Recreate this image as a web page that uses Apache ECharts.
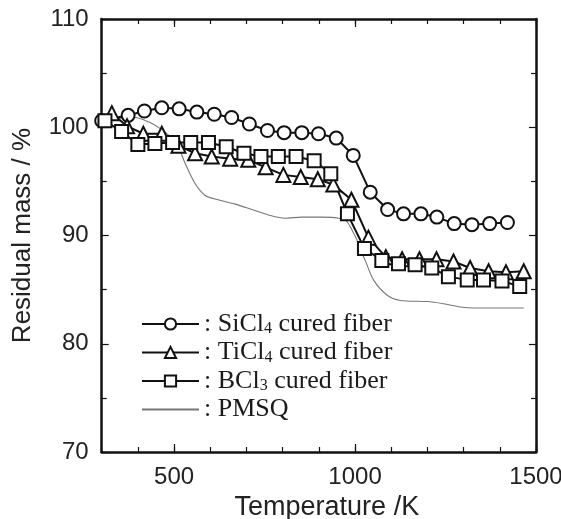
<!DOCTYPE html>
<html>
<head>
<meta charset="utf-8">
<script src="https://cdn.jsdelivr.net/npm/echarts@6/dist/echarts.min.js"></script>
<style>
html,body{margin:0;padding:0;background:#fff;}
#chart{width:561px;height:519px;}
</style>
</head>
<body>
<div id="chart"></div>
<script>
// ---- data ----
var siTemp = [300, 373, 418, 466, 514, 563, 611, 659, 708, 758, 804, 853, 899, 948, 995, 1042, 1090, 1134, 1182, 1226, 1274, 1323, 1372, 1421];
var siMass = [100.6, 101.1, 101.5, 101.8, 101.7, 101.4, 101.2, 100.9, 100.3, 99.7, 99.5, 99.5, 99.4, 99.0, 97.4, 94.0, 92.4, 92.0, 92.0, 91.7, 91.1, 91.0, 91.1, 91.2];

var tiTemp = [328, 370, 415, 466, 512, 558, 604, 655, 705, 753, 802, 850, 897, 940, 990, 1037, 1085, 1130, 1178, 1225, 1272, 1318, 1369, 1417, 1466];
var tiMass = [101.3, 100.1, 99.4, 99.4, 98.3, 97.6, 97.3, 97.1, 97.0, 96.3, 95.6, 95.4, 95.2, 94.7, 93.3, 89.8, 88.0, 87.8, 87.8, 87.8, 87.6, 87.0, 86.7, 86.6, 86.7];

var bTemp = [309, 355, 400, 447, 496, 546, 595, 644, 693, 740, 788, 837, 887, 933, 979, 1026, 1074, 1120, 1166, 1212, 1258, 1310, 1355, 1406, 1455];
var bMass = [100.6, 99.6, 98.4, 98.5, 98.6, 98.6, 98.6, 98.2, 97.6, 97.3, 97.3, 97.3, 96.9, 95.7, 92.0, 88.8, 87.7, 87.4, 87.3, 87.0, 86.2, 85.9, 85.9, 85.8, 85.3];

var pTemp = [340, 392, 429, 461, 494, 512, 530, 558, 586, 622, 669, 715, 761, 807, 853, 908, 954, 977, 996, 1005, 1014, 1028, 1051, 1088, 1125, 1199, 1244, 1291, 1327, 1401, 1466];
var pMass = [100.8, 100.9, 100.5, 99.9, 99.0, 98.2, 96.7, 94.8, 93.7, 93.3, 92.9, 92.4, 91.9, 91.6, 91.7, 91.7, 91.6, 91.3, 90.2, 89.6, 88.7, 87.7, 85.9, 84.5, 84.0, 83.9, 83.7, 83.4, 83.3, 83.3, 83.3];

var seriesNames = ['SiCl4', 'TiCl4', 'BCl3', 'PMSQ'];
var legendTexts = {
  'SiCl4': ': SiCl{s|4} cured fiber',
  'TiCl4': ': TiCl{s|4} cured fiber',
  'BCl3': ': BCl{s|3} cured fiber',
  'PMSQ': ': PMSQ'
};
var xTickLabels = [500, 1000, 1500];
var yTickLabels = [70, 80, 90, 100, 110];

function pairs(xs, ys) {
  var out = [];
  for (var i = 0; i < xs.length; i++) out.push([xs[i], ys[i]]);
  return out;
}

var ink = '#111';
var gridMain = {left: 101.7, right: 25, top: 19, bottom: 67, outerBoundsMode: 'none', containLabel: false};
var plotW = 561 - gridMain.left - gridMain.right;
var perK = plotW / 1200;
// second grid starts at T = 500 so its major ticks fall on 500, 1000, 1500
var gridMajor = {left: gridMain.left + 200 * perK, right: 25, top: 19, bottom: 67, outerBoundsMode: 'none', containLabel: false};

var chart = echarts.init(document.getElementById('chart'), null, {renderer: 'canvas'});

var markerStyle = {color: '#fff', borderColor: ink, borderWidth: 2};
var serif = 'Liberation Serif, Times New Roman, serif';
var sans = 'Liberation Sans, Arial, sans-serif';

chart.setOption({
  animation: false,
  backgroundColor: '#fff',
  grid: [gridMain, gridMajor],
  legend: {
    orient: 'vertical',
    left: 136,
    top: 306,
    itemWidth: 57,
    itemHeight: 14,
    itemGap: 2.5,
    data: [
      {name: 'SiCl4'}, {name: 'TiCl4'}, {name: 'BCl3'},
      {name: 'PMSQ', itemStyle: {opacity: 0}}
    ],
    formatter: function (n) { return legendTexts[n]; },
    textStyle: {
      fontFamily: serif,
      fontSize: 26,
      color: '#1a1a1a',
      lineHeight: 26,
      padding: [0, 0, 0, 0],
      rich: {
        s: {fontFamily: serif, fontSize: 16, color: '#1a1a1a', lineHeight: 13, verticalAlign: 'bottom'}
      }
    }
  },
  xAxis: [
    {
      type: 'value', gridIndex: 0, position: 'bottom', min: 300, max: 1500, interval: 100,
      axisLine: {show: true, lineStyle: {color: ink, width: 2.5}},
      axisTick: {show: true, inside: true, length: 5, lineStyle: {color: ink, width: 1.2}},
      axisLabel: {
        show: true, margin: 13, fontSize: 24, color: '#222', fontFamily: sans,
        formatter: function (v) { return xTickLabels.indexOf(v) >= 0 ? String(v) : ''; }
      },
      splitLine: {show: false},
      name: 'Temperature /K', nameLocation: 'middle', nameGap: 40,
      nameTextStyle: {fontSize: 27, color: '#222', fontFamily: sans, padding: [0, 0, 0, 16]}
    },
    {
      type: 'value', gridIndex: 0, position: 'top', min: 300, max: 1500, interval: 100,
      axisLine: {show: true, lineStyle: {color: ink, width: 2.5}},
      axisTick: {show: true, inside: true, length: 5, lineStyle: {color: ink, width: 1.2}},
      axisLabel: {show: false}, splitLine: {show: false}
    },
    {
      type: 'value', gridIndex: 1, position: 'bottom', min: 500, max: 1500, interval: 500,
      axisLine: {show: false},
      axisTick: {show: true, inside: true, length: 8, lineStyle: {color: ink, width: 1.2}},
      axisLabel: {show: false}, splitLine: {show: false}
    },
    {
      type: 'value', gridIndex: 1, position: 'top', min: 500, max: 1500, interval: 500,
      axisLine: {show: false},
      axisTick: {show: true, inside: true, length: 8, lineStyle: {color: ink, width: 1.2}},
      axisLabel: {show: false}, splitLine: {show: false}
    }
  ],
  yAxis: [
    {
      type: 'value', gridIndex: 0, position: 'left', min: 70, max: 110, interval: 10,
      axisLine: {show: true, lineStyle: {color: ink, width: 2.5}},
      axisTick: {show: true, inside: true, length: 7, lineStyle: {color: ink, width: 1.2}},
      minorTick: {show: true, splitNumber: 2, length: 5, lineStyle: {color: ink, width: 1.2}},
      axisLabel: {
        show: true, margin: 13, fontSize: 24, color: '#222', fontFamily: sans,
        formatter: function (v) { return yTickLabels.indexOf(v) >= 0 ? String(v) : ''; }
      },
      splitLine: {show: false},
      name: 'Residual mass / %', nameLocation: 'middle', nameRotate: 90, nameGap: 66,
      nameTextStyle: {fontSize: 26, color: '#222', fontFamily: sans}
    },
    {
      type: 'value', gridIndex: 0, position: 'right', min: 70, max: 110, interval: 10,
      axisLine: {show: true, lineStyle: {color: ink, width: 2.5}},
      axisTick: {show: true, inside: true, length: 7, lineStyle: {color: ink, width: 1.2}},
      minorTick: {show: true, splitNumber: 2, length: 5, lineStyle: {color: ink, width: 1.2}},
      axisLabel: {show: false}, splitLine: {show: false}
    },
    {type: 'value', gridIndex: 1, show: false, min: 70, max: 110}
  ],
  series: [
    {
      name: 'PMSQ', type: 'line', xAxisIndex: 0, yAxisIndex: 0,
      data: pairs(pTemp, pMass), symbol: 'none', smooth: 0.3,
      lineStyle: {color: '#777', width: 1.1},
      itemStyle: {color: '#777'}
    },
    {
      name: 'SiCl4', type: 'line', xAxisIndex: 0, yAxisIndex: 0,
      data: pairs(siTemp, siMass), symbol: 'circle', symbolSize: 13,
      lineStyle: {color: ink, width: 2}, itemStyle: markerStyle
    },
    {
      name: 'TiCl4', type: 'line', xAxisIndex: 0, yAxisIndex: 0,
      data: pairs(tiTemp, tiMass), symbol: 'triangle', symbolSize: 14,
      lineStyle: {color: ink, width: 2}, itemStyle: markerStyle
    },
    {
      name: 'BCl3', type: 'line', xAxisIndex: 0, yAxisIndex: 0,
      data: pairs(bTemp, bMass), symbol: 'rect', symbolSize: 13,
      lineStyle: {color: ink, width: 2}, itemStyle: markerStyle
    }
  ]
});
</script>
</body>
</html>
